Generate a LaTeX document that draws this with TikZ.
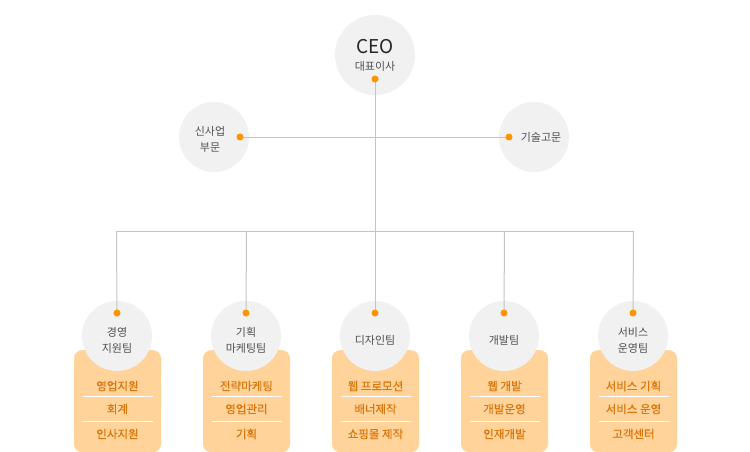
\documentclass[tikz,border=0pt]{standalone}
\usepackage{fontspec}
\usetikzlibrary{calc}
\setmainfont{Noto Sans CJK KR}
\newfontfamily\itemfont[FakeBold=0.4]{Noto Sans CJK KR}
\begin{document}
\begin{tikzpicture}[x=1pt,y=-1pt,
  conn/.style={draw=linegray,line width=1pt},
  circ/.style={circle,fill=circfill,inner sep=0pt,text=labelgray,font=\fontsize{11}{15}\selectfont,align=center},
  dotnode/.style={circle,fill=dotorange,inner sep=0pt,minimum size=7pt},
  boxnode/.style={rounded corners=8pt,fill=boxfill,minimum width=87pt,minimum height=102pt,inner sep=0pt},
  item/.style={text=itemorange,font=\itemfont\fontsize{11.5}{13}\selectfont,inner sep=0pt},
  lbl/.style={text=labelgray,font=\fontsize{11}{16}\selectfont,align=center,inner sep=0pt},
  sep/.style={draw=white,line width=1pt}]
\definecolor{linegray}{HTML}{C4C4C4}
\definecolor{circfill}{HTML}{F1F1F1}
\definecolor{labelgray}{HTML}{505050}
\definecolor{dotorange}{HTML}{FF9400}
\definecolor{boxfill}{HTML}{FFD399}
\definecolor{itemorange}{HTML}{D9770C}
\useasboundingbox[fill=white] (0,0) rectangle (750,452);

% top circles
\node[circ,minimum size=80pt] (ceo) at (375,55) {};
\node[text=black!85,font=\fontsize{19}{20}\selectfont,inner sep=0pt] (ceot) at (375,47) {CEO};
\node[lbl] (ceos) at (375,66) {대표이사};
\node[circ,minimum size=70pt] (new) at (214,137) {};
\node[lbl] (newt) at (210,139) {신사업\\부문};
\node[circ,minimum size=70pt] (tech) at (534,137) {};
\node[lbl] (techt) at (541,137) {기술고문};

% coordinates
\coordinate (ceod) at (375,79);
\coordinate (newd) at (240,137);
\coordinate (techd) at (509,137);
\coordinate (junc) at (375,231);
\coordinate (h1) at (116.5,231);
\coordinate (h2) at (246.5,231);
\coordinate (h4) at (504.5,231);
\coordinate (h5) at (633.5,231);

% boxes
\foreach \i/\x in {1/117.5,2/246.5,3/375.5,4/504.5,5/633.5}{
  \node[boxnode,anchor=north] (box\i) at (\x,350) {};
  \draw[sep] ($(box\i.north)+(-35,46)$) -- ($(box\i.north)+(35,46)$);
  \draw[sep] ($(box\i.north)+(-35,71)$) -- ($(box\i.north)+(35,71)$);
}
\foreach \i/\x in {1/117,2/246,3/375,4/504,5/633}{
  \node[circ,minimum size=70pt] (team\i) at (\x,336) {};
  \coordinate (td\i) at (\x,313);
}

% connectors
\draw[conn] (ceod) -- (junc);
\draw[conn] (newd) -- (techd);
\draw[conn] (h1) -- (h5);
\draw[conn] (h1) -- (td1);
\draw[conn] (h2) -- (td2);
\draw[conn] (junc) -- (td3);
\draw[conn] (h4) -- (td4);
\draw[conn] (h5) -- (td5);

% dots
\node[dotnode] (dceo) at (ceod) {};
\node[dotnode] (dnew) at (newd) {};
\node[dotnode] (dtech) at (techd) {};
\foreach \i in {1,...,5}{\node[dotnode] (dt\i) at (td\i) {};}

% team labels
\node[lbl] (l1) at (117,340) {경영\\지원팀};
\node[lbl] (l2) at (246,340) {기획\\마케팅팀};
\node[lbl] (l3) at (375,340) {디자인팀};
\node[lbl] (l4) at (504,340) {개발팀};
\node[lbl] (l5) at (633,340) {서비스\\운영팀};

% items
\node[item] (i11) at (117.5,386) {영업지원};
\node[item] (i12) at (117.5,409) {회계};
\node[item] (i13) at (117.5,434) {인사지원};
\node[item] (i21) at (246.5,386) {전략마케팅};
\node[item] (i22) at (246.5,409) {영업관리};
\node[item] (i23) at (246.5,434) {기획};
\node[item] (i31) at (375.5,386) {웹 프로모션};
\node[item] (i32) at (375.5,409) {배너제작};
\node[item] (i33) at (375.5,434) {쇼핑몰 제작};
\node[item] (i41) at (504.5,386) {웹 개발};
\node[item] (i42) at (504.5,409) {개발운영};
\node[item] (i43) at (504.5,434) {인재개발};
\node[item] (i51) at (633.5,386) {서비스 기획};
\node[item] (i52) at (633.5,409) {서비스 운영};
\node[item] (i53) at (633.5,434) {고객센터};
\end{tikzpicture}
\end{document}
